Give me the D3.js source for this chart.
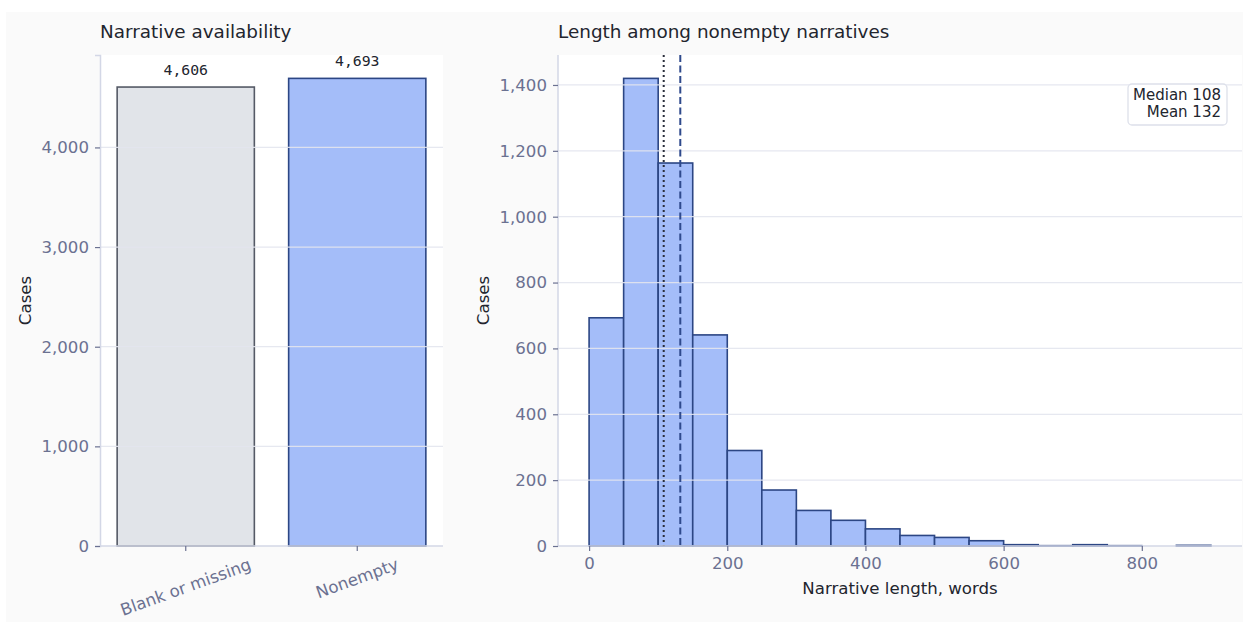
<!DOCTYPE html>
<html><head><meta charset="utf-8">
<script src="https://cdn.jsdelivr.net/npm/d3@7/dist/d3.min.js"></script>
<style>
html,body{margin:0;padding:0;background:#ffffff;}
svg{display:block;font-family:"DejaVu Sans",sans-serif;}
</style></head><body>
<svg id="c" width="1243" height="622"></svg>
<script>
// ---- data ----
const availCategories = ["Blank or missing", "Nonempty"];
const availValues = [4606, 4693];
const availTicks = [0, 1000, 2000, 3000, 4000];

const binEdgesStart = [0,50,100,150,200,250,300,350,400,450,500,550,600,650,700,750,800,850];
const binWidth = 50;
const binCounts = [693,1420,1163,641,290,170,108,78,52,32,26,16,4,1,4,1,0,2];
const histYTicks = [0,200,400,600,800,1000,1200,1400];
const histXTicks = [0,200,400,600,800];
const medianWords = 108;
const meanWords = 132;

// ---- style ----
const C = {
  bg:"#fafafa", plot:"#ffffff", grid:"#e4e6ef", spine:"#d3d7e6",
  tick:"#6b7191", text:"#22252e",
  grayFill:"#e1e4e9", grayStroke:"#555a66",
  blueFill:"#a4bdf9", blueStroke:"#2c4684"
};
const TICK_FS = 16.6, LAB_FS = 16.6, TITLE_FS = 18.4;
const svg = d3.select("#c");
svg.append("rect").attr("x",6).attr("y",12).attr("width",1237).attr("height",610).attr("fill",C.bg);

const fmt = d3.format(",");

// ===== Left panel =====
const L = {x0:100, x1:443, y0:55, y1:546};
svg.append("rect").attr("x",L.x0).attr("y",L.y0).attr("width",L.x1-L.x0).attr("height",L.y1-L.y0).attr("fill",C.plot);
const xb = d3.scaleBand().domain(availCategories).range([L.x0,L.x1]).paddingInner(0.2).paddingOuter(0.1);
const yb = d3.scaleLinear().domain([0, d3.max(availValues)*1.05]).range([L.y1,L.y0]);

const gL = svg.append("g");
gL.selectAll("rect.bar").data(availCategories).join("rect")
  .attr("x",d=>xb(d)).attr("width",xb.bandwidth())
  .attr("y",(d,i)=>yb(availValues[i])).attr("height",(d,i)=>yb(0)-yb(availValues[i]))
  .attr("fill",(d,i)=>i===0?C.grayFill:C.blueFill)
  .attr("stroke",(d,i)=>i===0?C.grayStroke:C.blueStroke).attr("stroke-width",1.6);
gL.selectAll("line.grid").data(availTicks.filter(t=>t>0)).join("line")
  .attr("x1",L.x0).attr("x2",L.x1).attr("y1",d=>yb(d)).attr("y2",d=>yb(d))
  .attr("stroke",C.grid).attr("stroke-width",1.3).attr("opacity",0.9);
gL.selectAll("text.val").data(availCategories).join("text")
  .attr("x",d=>xb(d)+xb.bandwidth()/2).attr("y",(d,i)=>yb(availValues[i])-12)
  .attr("text-anchor","middle").attr("font-family","'DejaVu Sans Mono',monospace").attr("font-size",14.8)
  .attr("fill",C.text).text((d,i)=>fmt(availValues[i]));
const yAxisL = svg.append("g").attr("transform",`translate(${L.x0},0)`)
  .call(d3.axisLeft(yb).tickValues(availTicks).tickFormat(fmt).tickSize(5).tickPadding(6));
const xAxisL = svg.append("g").attr("transform",`translate(0,${L.y1})`)
  .call(d3.axisBottom(xb).tickSize(5).tickPadding(6));
[yAxisL,xAxisL].forEach(g=>{
  g.select(".domain").attr("stroke",C.spine).attr("stroke-width",1.5);
  g.selectAll(".tick line").attr("stroke",C.tick).attr("stroke-width",1.2);
  g.selectAll(".tick text").attr("fill",C.tick).attr("font-size",TICK_FS).attr("font-family","DejaVu Sans");
});
xAxisL.select(".domain").attr("d",`M${L.x0},0H${L.x1}`);
xAxisL.selectAll(".tick text").each(function(){
  const t = d3.select(this);
  const w = this.getComputedTextLength();
  const h = TICK_FS*1.0;
  const bh = w*Math.sin(20*Math.PI/180) + h*Math.cos(20*Math.PI/180);
  const cy = 10 + bh/2;
  t.attr("y",null).attr("dy",null).attr("text-anchor","middle").attr("dominant-baseline","central")
   .attr("transform",`translate(0,${cy}) rotate(-20)`);
});
svg.append("text").attr("x",100).attr("y",38).attr("font-size",TITLE_FS).attr("fill",C.text).text("Narrative availability");
svg.append("text").attr("transform",`translate(31,${(L.y0+L.y1)/2}) rotate(-90)`).attr("text-anchor","middle")
  .attr("font-size",LAB_FS).attr("fill",C.text).text("Cases");

// ===== Right panel =====
const R = {x0:558, x1:1242, y0:55, y1:546};
svg.append("rect").attr("x",R.x0).attr("y",R.y0).attr("width",R.x1-R.x0).attr("height",R.y1-R.y0).attr("fill",C.plot);
const xMax = binEdgesStart[binEdgesStart.length-1]+binWidth;
const xh = d3.scaleLinear().domain([-0.05*xMax, xMax*1.05]).range([R.x0,R.x1]);
const yh = d3.scaleLinear().domain([0, d3.max(binCounts)*1.05]).range([R.y1,R.y0]);
const gR = svg.append("g");
gR.selectAll("rect").data(binEdgesStart).join("rect")
  .attr("x",d=>xh(d)).attr("width",d=>xh(d+binWidth)-xh(d))
  .attr("y",(d,i)=>yh(binCounts[i])).attr("height",(d,i)=>yh(0)-yh(binCounts[i]))
  .attr("fill",C.blueFill).attr("stroke",C.blueStroke).attr("stroke-width",1.6);
gR.selectAll("line.grid").data(histYTicks.filter(t=>t>0)).join("line")
  .attr("x1",R.x0).attr("x2",R.x1).attr("y1",d=>yh(d)).attr("y2",d=>yh(d))
  .attr("stroke",C.grid).attr("stroke-width",1.3).attr("opacity",0.9);
gR.append("line").attr("x1",xh(medianWords)).attr("x2",xh(medianWords)).attr("y1",R.y0).attr("y2",R.y1)
  .attr("stroke","#2a2e3b").attr("stroke-width",2).attr("stroke-dasharray","2,3");
gR.append("line").attr("x1",xh(meanWords)).attr("x2",xh(meanWords)).attr("y1",R.y0).attr("y2",R.y1)
  .attr("stroke","#2f4a8c").attr("stroke-width",2).attr("stroke-dasharray","7,3.5");
const yAxisR = svg.append("g").attr("transform",`translate(${R.x0},0)`)
  .call(d3.axisLeft(yh).tickValues(histYTicks).tickFormat(fmt).tickSize(5).tickPadding(6));
const xAxisR = svg.append("g").attr("transform",`translate(0,${R.y1})`)
  .call(d3.axisBottom(xh).tickValues(histXTicks).tickFormat(d3.format("d")).tickSize(5).tickPadding(6));
[yAxisR,xAxisR].forEach(g=>{
  g.select(".domain").attr("stroke",C.spine).attr("stroke-width",1.5);
  g.selectAll(".tick line").attr("stroke",C.tick).attr("stroke-width",1.2);
  g.selectAll(".tick text").attr("fill",C.tick).attr("font-size",TICK_FS).attr("font-family","DejaVu Sans");
});
yAxisR.select(".domain").attr("d",`M0,${R.y0}V${R.y1}`);
xAxisR.select(".domain").attr("d",`M${R.x0},0H${R.x1}`);
svg.append("text").attr("x",558).attr("y",38).attr("font-size",TITLE_FS).attr("fill",C.text).text("Length among nonempty narratives");
svg.append("text").attr("transform",`translate(489,${(R.y0+R.y1)/2}) rotate(-90)`).attr("text-anchor","middle")
  .attr("font-size",LAB_FS).attr("fill",C.text).text("Cases");
svg.append("text").attr("x",(R.x0+R.x1)/2).attr("y",594).attr("text-anchor","middle")
  .attr("font-size",LAB_FS).attr("fill",C.text).text("Narrative length, words");
const lg = svg.append("g");
lg.append("rect").attr("x",1128).attr("y",84).attr("width",99).attr("height",41).attr("rx",4)
  .attr("fill","#ffffff").attr("stroke","#dde0ea").attr("stroke-width",1.3);
lg.append("text").attr("x",1221).attr("y",100).attr("text-anchor","end").attr("font-size",15).attr("fill",C.text).text(`Median ${medianWords}`);
lg.append("text").attr("x",1221).attr("y",117).attr("text-anchor","end").attr("font-size",15).attr("fill",C.text).text(`Mean ${meanWords}`);
</script></body></html>
